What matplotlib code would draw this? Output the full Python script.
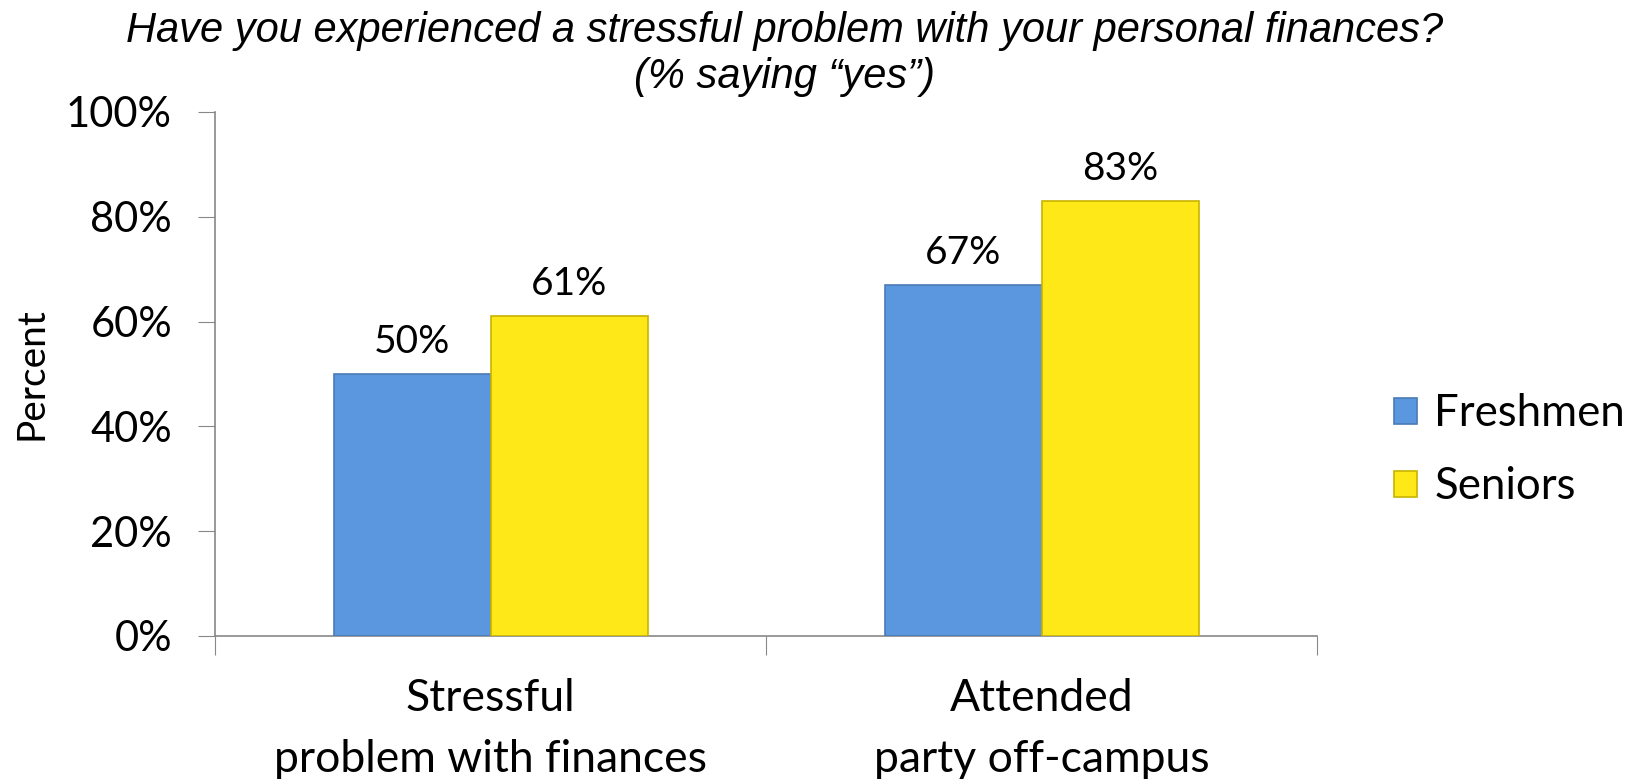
import matplotlib
matplotlib.use("Agg")
import matplotlib.pyplot as plt
import numpy as np

categories = ["Stressful\nproblem with finances", "Attended\nparty off-campus"]
series_names = ["Freshmen", "Seniors"]
freshmen = [50, 67]
seniors = [61, 83]
yticks = [0, 20, 40, 60, 80, 100]

title = "Have you experienced a stressful problem with your personal finances?\n(% saying \u201cyes\u201d)"

fig = plt.figure(figsize=(16.43, 7.79), dpi=100)
ax = fig.add_axes([0.1309, 0.1836, 0.6707, 0.6727])

x = np.arange(len(categories))
w = 0.285
colors = ["#5B97DF", "#FFE817"]
edges = ["#4A7BB5", "#C9B400"]
font = "Lato"

b1 = ax.bar(x - w/2, freshmen, w, color=colors[0], edgecolor=edges[0], linewidth=1.2, label=series_names[0], zorder=3)
b2 = ax.bar(x + w/2, seniors, w, color=colors[1], edgecolor=edges[1], linewidth=1.2, label=series_names[1], zorder=3)

for bars, vals in ((b1, freshmen), (b2, seniors)):
    for r, v in zip(bars, vals):
        ax.annotate(f"{v}%", (r.get_x() + r.get_width()/2, v), xytext=(0, 10), textcoords="offset points",
                    ha="center", va="bottom", fontsize=28, family=font)

ax.set_xlim(-0.5, 1.5)
ax.set_ylim(0, 100)
ax.set_yticks(yticks)
ax.set_yticklabels([f"{t}%" for t in yticks], fontsize=30, family=font)
ax.set_xticks([-0.5, 0.5, 1.5])
ax.set_xticklabels([])
ax.set_xticks(x, minor=True)
ax.set_xticklabels(categories, minor=True, fontsize=32, family=font, linespacing=1.62)
ax.tick_params(axis="x", which="minor", length=0, pad=30)
ax.tick_params(axis="x", which="major", length=14, direction="out", color="#888888")
ax.tick_params(axis="y", length=12, direction="out", color="#888888", pad=19)
for s in ["top", "right"]:
    ax.spines[s].set_visible(False)
for s in ["left", "bottom"]:
    ax.spines[s].set_color("#888888")
    ax.spines[s].set_linewidth(1.2)

ax.set_ylabel("Percent", fontsize=28, family=font, labelpad=12)

fig.text(0.4777, 0.986, title, ha="center", va="top", fontsize=30, style="italic",
         family="Liberation Sans", linespacing=1.2)

leg = ax.legend(loc="center left", bbox_to_anchor=(1.07, 0.354), frameon=False,
                prop={"family": font, "size": 31.5}, handlelength=0.52, handleheight=0.52,
                handletextpad=0.4, labelspacing=0.73, borderpad=0, borderaxespad=0)

fig.savefig("out.png", dpi=100)
